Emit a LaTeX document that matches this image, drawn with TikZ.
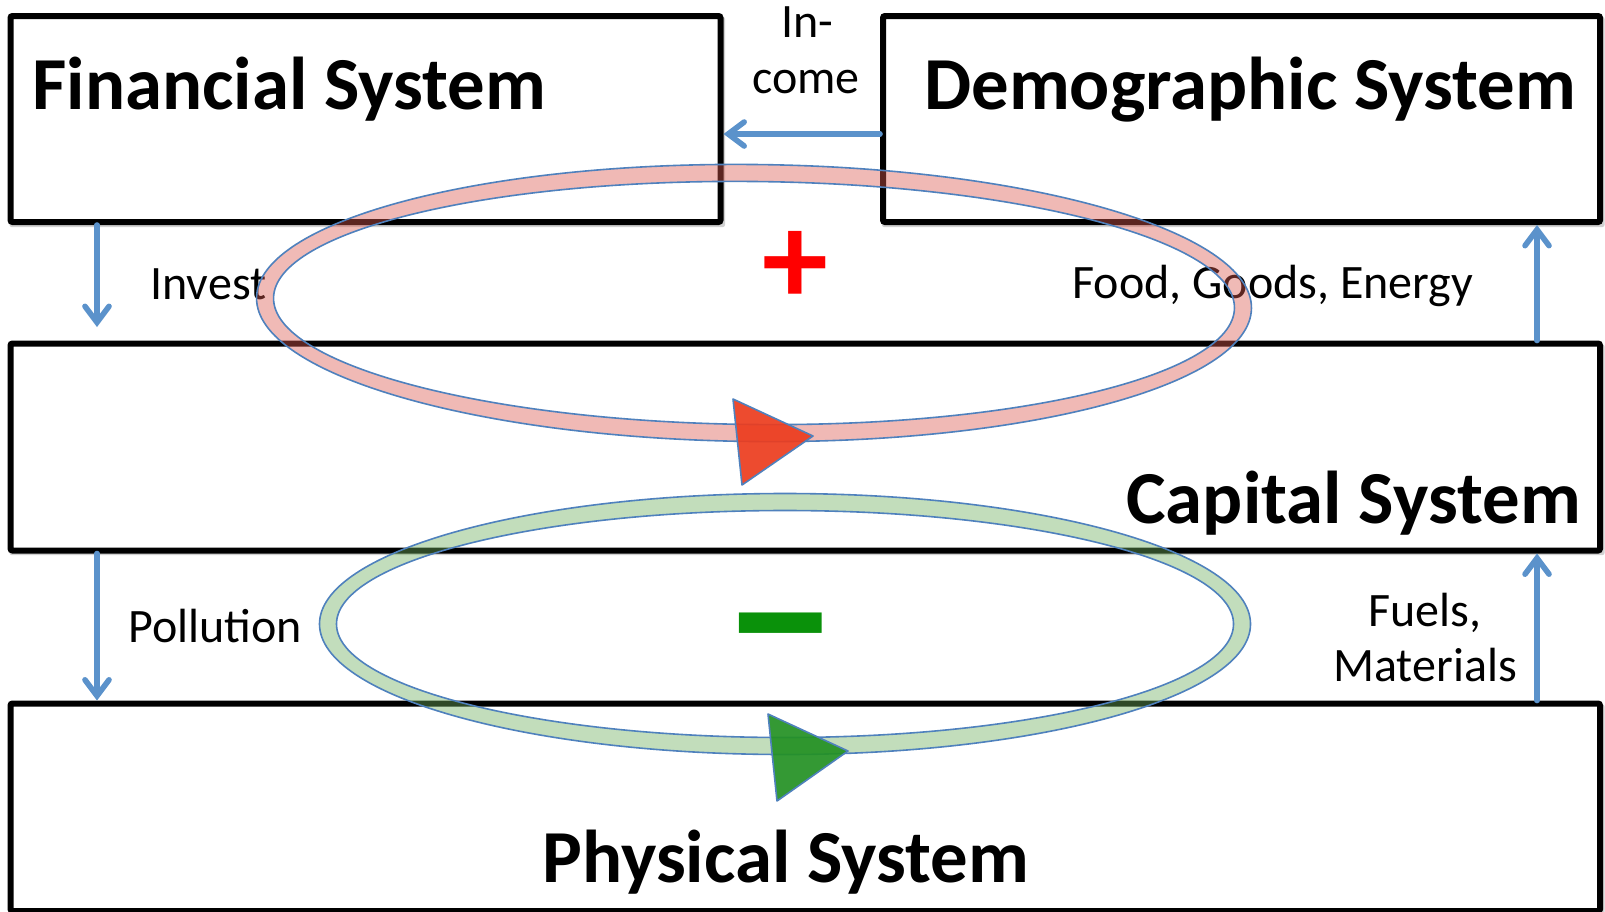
\documentclass[tikz,border=0pt]{standalone}
\usepackage{fontspec}
\setmainfont{Carlito}
\usetikzlibrary{arrows.meta,calc}
\definecolor{lineblue}{RGB}{79,129,189}
\definecolor{arrowblue}{RGB}{91,146,203}
\definecolor{pinkband}{RGB}{220,90,80}
\definecolor{greenband}{RGB}{110,175,95}
\definecolor{trired}{RGB}{236,60,30}
\definecolor{trigreen}{RGB}{35,145,35}
\definecolor{plusred}{RGB}{255,0,0}
\definecolor{minusgreen}{RGB}{10,145,10}
\tikzset{
  sysbox/.style={draw=black, line width=3pt, rounded corners=1pt, inner sep=0pt, fill=white},
  boxshadow/.style={fill=black, fill opacity=0.18, rounded corners=1pt},
  bigtext/.style={font=\fontsize{37.4}{41}\selectfont\bfseries, anchor=base west, inner sep=0pt},
  lbl/.style={font=\fontsize{24}{28}\selectfont, anchor=base west, inner sep=0pt},
  flow/.style={draw=arrowblue, line width=2.8pt, line cap=round, -{Straight Barb[length=8pt,width=12pt,line cap=round]}},
  edgeline/.style={draw=lineblue, line width=0.8pt},
  tri/.style={draw=lineblue, line width=0.8pt, line join=round, fill opacity=0.92}
}
\begin{document}
\begin{tikzpicture}[x=0.5pt,y=-0.5pt]
\useasboundingbox (0,0) rectangle (1605,911);
\begin{scope}
\clip (0,0) rectangle (1605,911);
% shadows
\fill[boxshadow] (9.5,17) rectangle (725,227);
\fill[boxshadow] (882,17) rectangle (1604.5,227);
\fill[boxshadow] (9.5,344.5) rectangle (1604.5,555);
\fill[boxshadow] (9.5,704.5) rectangle (1604.5,915);
% boxes
\node[sysbox, minimum width=355pt, minimum height=103pt] (fin) at (365.5,119) {};
\node[sysbox, minimum width=358.5pt, minimum height=103pt] (dem) at (1241.5,119) {};
\node[sysbox, minimum width=794.75pt, minimum height=103.5pt] (cap) at (805.25,447) {};
\node[sysbox, minimum width=794.75pt, minimum height=103.75pt] (phys) at (805.25,807.25) {};
\end{scope}
% box titles
\node[bigtext] (tfin) at (32,109.5) {Financial System};
\node[bigtext] (tdem) at (924,109.5) {Demographic System};
\node[bigtext] (tcap) at (1126,523) {Capital System};
\node[bigtext] (tphys) at (542,882) {Physical System};
% labels
\node[lbl, anchor=base] (tin1) at (807,37) {In-};
\node[lbl, anchor=base] (tin2) at (806,93) {come};
\node[lbl] (tinv) at (150,299) {Invest};
\node[lbl] (tfood) at (1072,298) {Food, Goods, Energy};
\node[lbl] (tpol) at (128,642) {Pollution};
\node[lbl, anchor=base] (tfu1) at (1425,626) {Fuels,};
\node[lbl, anchor=base] (tfu2) at (1425,681) {Materials};
% connectors
\coordinate (yinc) at (0,134);
\coordinate (xl) at (97,0);
\coordinate (xr) at (1537,0);
\coordinate (investEnd) at (97,327);
\draw[flow] (dem.west |- yinc) -- (fin.east |- yinc);
\draw[flow] (fin.south -| xl) -- (investEnd);
\draw[flow] (cap.south -| xl) -- (phys.north -| xl);
\draw[flow] (cap.north -| xr) -- (dem.south -| xr);
\draw[flow] (phys.north -| xr) -- (cap.south -| xr);
% positive loop
\begin{scope}[rotate around={-0.6:(754,303)}]
\fill[pinkband, fill opacity=0.42, even odd rule] (754,303) ellipse [x radius=497.5, y radius=138.5] (754,303) ellipse [x radius=480.5, y radius=121.5];
\draw[edgeline] (754,303) ellipse [x radius=497.5, y radius=138.5];
\draw[edgeline] (754,303) ellipse [x radius=480.5, y radius=121.5];
\end{scope}
\node[font=\fontsize{66}{66}\selectfont\bfseries, text=plusred, inner sep=0pt] (plus) at (795,268) {+};
\draw[tri, fill=trired] (733,399) -- (813,436) -- (742,485) -- cycle;
% negative loop
\fill[greenband, fill opacity=0.42, even odd rule] (785,624) ellipse [x radius=465.5, y radius=130.5] (785,624) ellipse [x radius=448.5, y radius=113.5];
\draw[edgeline] (785,624) ellipse [x radius=465.5, y radius=130.5];
\draw[edgeline] (785,624) ellipse [x radius=448.5, y radius=113.5];
\node[font=\fontsize{117}{117}\selectfont\bfseries, text=minusgreen, inner sep=0pt] (minus) at (781,651) {–};
\draw[tri, fill=trigreen] (768,714) -- (848,751) -- (777,801) -- cycle;
\end{tikzpicture}
\end{document}
